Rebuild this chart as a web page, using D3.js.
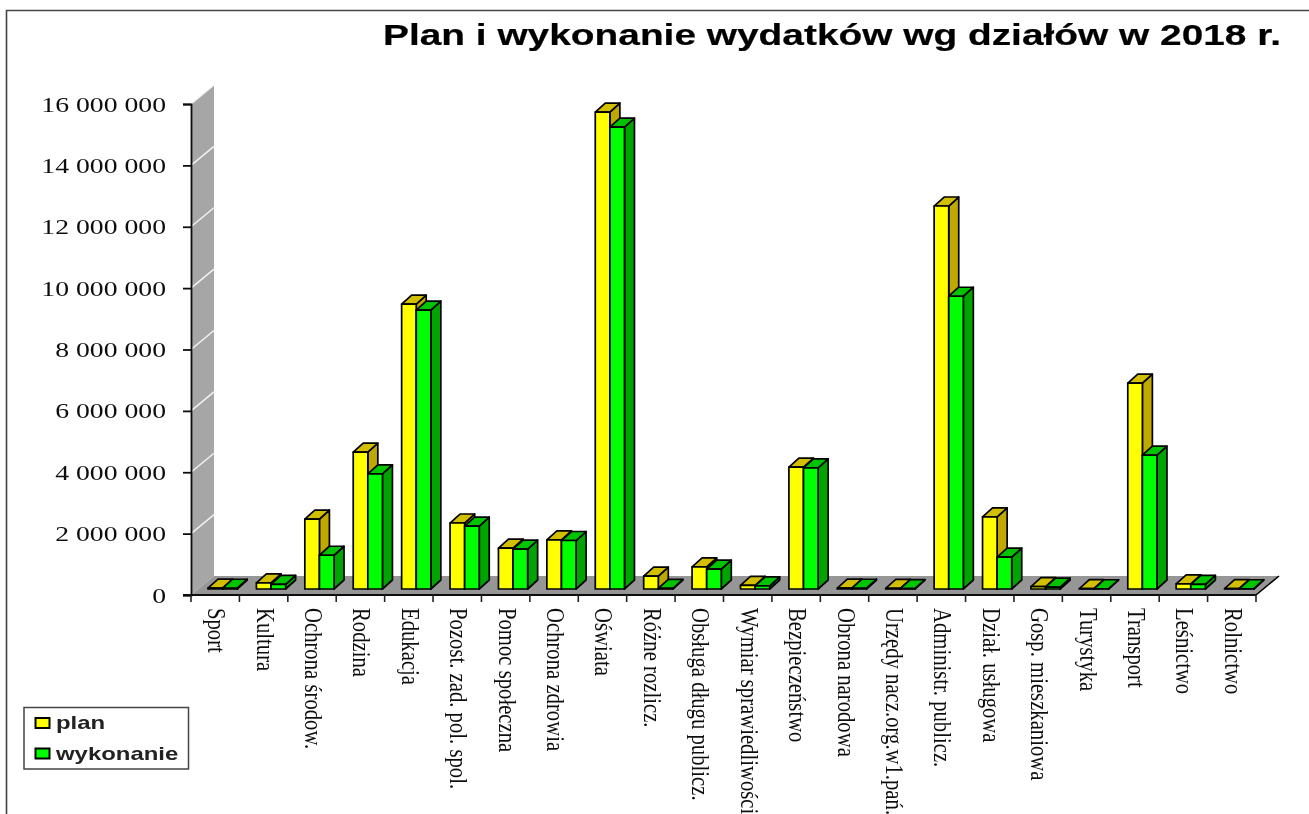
<!DOCTYPE html>
<html><head><meta charset="utf-8">
<script src="https://cdnjs.cloudflare.com/ajax/libs/d3/7.8.5/d3.min.js"></script>
<style>html,body{margin:0;background:#fff}svg{display:block}</style></head>
<body><svg id="c" width="1309" height="814"></svg>
<script>
const categories=["Sport","Kultura","Ochrona środow.","Rodzina","Edukacja","Pozost. zad. pol. spol.","Pomoc społeczna","Ochrona zdrowia","Oświata","Różne rozlicz.","Obsługa długu publicz.","Wymiar sprawiedliwości","Bezpieczeństwo","Obrona narodowa","Urzędy nacz.org.w1.pań.","Administr. publicz.","Dział. usługowa","Gosp. mieszkaniowa","Turystyka","Transport","Leśnictwo","Rolnictwo"];
const plan=[30000,200000,2280000,4460000,9280000,2150000,1330000,1600000,15540000,420000,720000,120000,3970000,30000,20000,12480000,2350000,80000,10000,6710000,170000,10000];
const wykonanie=[25000,150000,1100000,3750000,9090000,2050000,1300000,1580000,15050000,20000,650000,100000,3950000,25000,15000,9540000,1040000,60000,8000,4360000,150000,8000];
const yTicks=[0,2000000,4000000,6000000,8000000,10000000,12000000,14000000,16000000];
const seriesColors={plan:["#ffff00","#d2bf00","#bfa800"],wykonanie:["#00ff00","#00c400","#00a400"]};

const svg=d3.select("#c");
const defs=svg.append("defs");
defs.append("filter").attr("id","soft").attr("filterUnits","userSpaceOnUse").attr("x",0).attr("y",0)
 .attr("width",1309).attr("height",814).append("feGaussianBlur").attr("stdDeviation",0.7);
const root=svg.append("g").attr("filter","url(#soft)");
const x=d3.scaleBand().domain(categories).range([191,1256]);
const y=d3.scaleLinear().domain([0,16000000]).range([595,104]);
const wallDx=23,wallDy=-19,inDx=7,inDy=-6,dDx=10,dDy=-9,barW=14.6;
const poly=(p)=>d3.line()(p)+"Z";

// frame
root.append("path").attr("d","M1309,10.5H6.5V814").attr("stroke","#444").attr("stroke-width",1.6).attr("fill","none");

// wall + floor
root.append("path").attr("d",poly([[191,y(0)],[191+wallDx,y(0)+wallDy],[191+wallDx,y(16000000)+wallDy],[191,y(16000000)]])).attr("fill","#a6a6a6");
root.append("path").attr("d",poly([[191,595],[191+wallDx,595+wallDy],[1256+wallDx,595+wallDy],[1256,595]])).attr("fill","#969696");
root.append("g").selectAll("line").data(yTicks.filter(d=>d>0)).join("line")
 .attr("x1",191).attr("x2",191+wallDx).attr("y1",d=>y(d)).attr("y2",d=>y(d)+wallDy).attr("stroke","#f4f4f4").attr("stroke-width",1.4);
root.append("path").attr("d",`M1256,595L${1256+wallDx},${595+wallDy}`).attr("stroke","#000").attr("stroke-width",1.6);

// axes
const yAxis=d3.axisLeft(y).tickValues(yTicks).tickSize(8).tickPadding(0).tickFormat(()=>"");
const ya=root.append("g").attr("transform","translate(191,0)").call(yAxis);
ya.selectAll("path,line").attr("stroke","#111").attr("stroke-width",1.8);
const xa=root.append("g").attr("transform","translate(0,595)");
xa.append("line").attr("x1",183).attr("x2",1256).attr("stroke","#111").attr("stroke-width",2);
const edges=categories.map(c=>x(c)).concat([1256]);
xa.selectAll(".t").data(edges).join("line").attr("class","t").attr("x1",d=>d).attr("x2",d=>d).attr("y1",0).attr("y2",7).attr("stroke","#222").attr("stroke-width",1.6);

// y tick labels
root.append("g").selectAll("text").data(yTicks).join("text")
 .attr("transform",d=>`translate(166,${y(d)+7.5}) scale(1.32,1)`).attr("text-anchor","end")
 .attr("font-family","Liberation Serif").attr("font-size",21).attr("fill","#111")
 .text(d=>d===0?"0":d3.format(",")(d).replace(/,/g," "));

// bars
const base=y(0)+inDy;
const series=[["plan",plan,0],["wykonanie",wykonanie,1]];
const bars=root.append("g");
categories.forEach((c,i)=>{
 series.forEach(([name,vals,k])=>{
  const x0=x(c)+inDx+10+k*barW, x1=x0+barW, top=y(vals[i])+inDy, col=seriesColors[name];
  const g=bars.append("g").attr("stroke","#000").attr("stroke-width",1.7).attr("stroke-linejoin","round");
  g.append("path").attr("fill",col[2]).attr("d",poly([[x1,top],[x1+dDx,top+dDy],[x1+dDx,base+dDy],[x1,base]]));
  g.append("path").attr("fill",col[1]).attr("d",poly([[x0,top],[x0+dDx,top+dDy],[x1+dDx,top+dDy],[x1,top]]));
  g.append("rect").attr("fill",col[0]).attr("x",x0).attr("y",top).attr("width",barW).attr("height",base-top);
 });
});

// category labels
root.append("g").selectAll("text").data(categories).join("text")
 .attr("transform",d=>`translate(${x(d)+x.bandwidth()/2-7},608) rotate(90) scale(1.09,1.35)`)
 .attr("font-family","Liberation Serif").attr("font-size",19).attr("fill","#111")
 .attr("text-anchor","start")
 .text(d=>d);

// title
root.append("text").attr("x",383).attr("y",45).attr("font-family","Liberation Sans").attr("font-weight","bold").attr("font-size",30).attr("fill","#000")
 .attr("stroke","#000").attr("stroke-width",0.2)
 .attr("textLength",898).attr("lengthAdjust","spacingAndGlyphs").text("Plan i wykonanie wydatków wg działów w 2018 r.");

// legend
const lg=root.append("g");
lg.append("rect").attr("x",24).attr("y",707.5).attr("width",164.5).attr("height",61.5).attr("fill","#fff").attr("stroke","#444").attr("stroke-width",1.5);
[["plan",723],["wykonanie",753.5]].forEach(([name,yy])=>{
 lg.append("rect").attr("x",35.5).attr("y",yy-5).attr("width",14).attr("height",10).attr("fill",seriesColors[name][0]).attr("stroke","#000").attr("stroke-width",2);
 lg.append("text").attr("transform",`translate(56,${yy+6}) scale(1.33,1)`).attr("font-family","Liberation Sans").attr("font-weight","bold").attr("font-size",18).attr("fill","#222").text(name);
});
</script></body></html>
